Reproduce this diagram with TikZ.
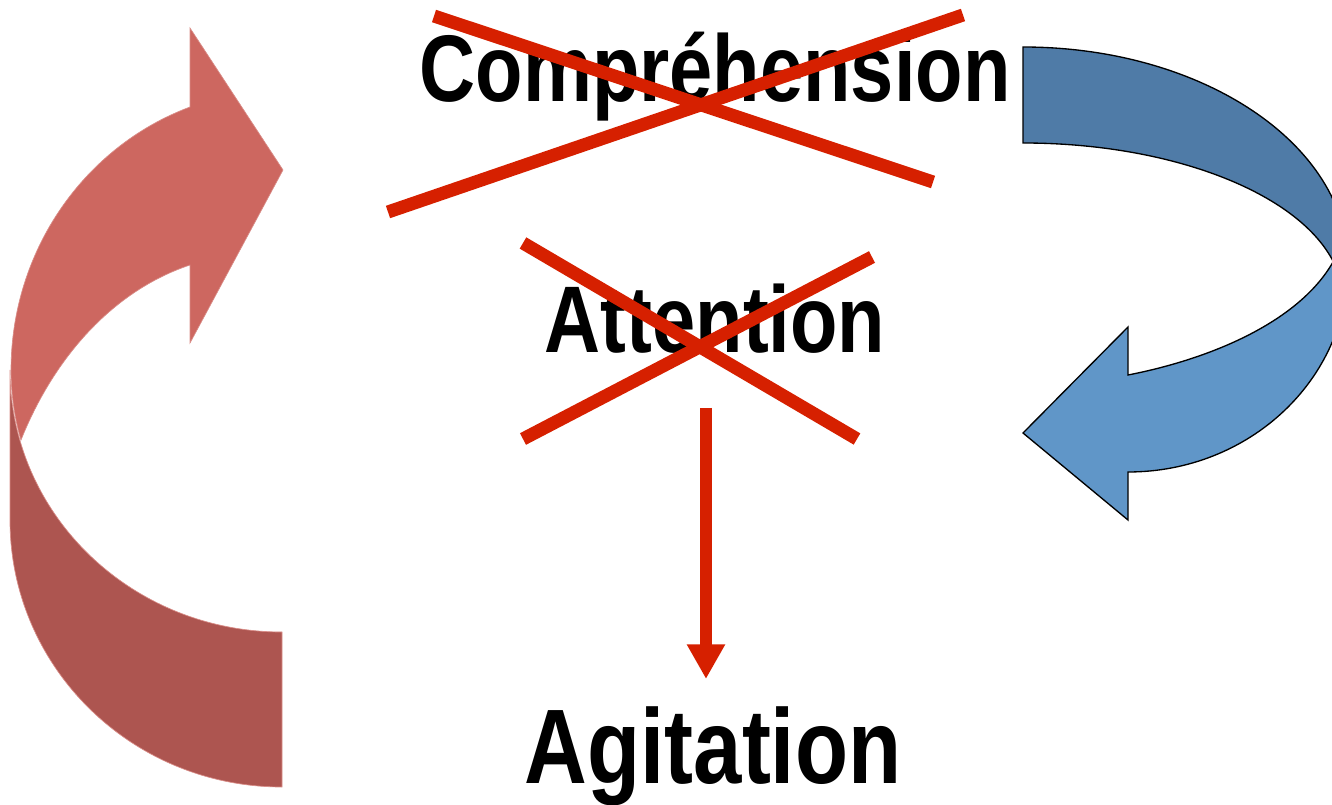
\documentclass[tikz,border=0pt]{standalone}
\usepackage{fontspec}
\newfontfamily\labelfont{Liberation Sans}[FakeStretch=0.82]
\usetikzlibrary{arrows.meta}
\definecolor{strikered}{RGB}{214,32,0}
\definecolor{loopred}{RGB}{205,103,96}
\definecolor{loopreddark}{RGB}{173,85,80}
\definecolor{loopblue}{RGB}{79,123,167}
\definecolor{loopbluelight}{RGB}{96,150,200}
\def\strikewidth{9.8pt}

\begin{document}
\begin{tikzpicture}[x=0.75pt,y=0.75pt]
    \tikzstyle{word}=[inner sep=0pt,anchor=base,font=\labelfont\bfseries\fontsize{71}{80}\selectfont]
    \tikzstyle{big word}=[word,font=\labelfont\bfseries\fontsize{79.5}{88}\selectfont]
    \tikzstyle{strike}=[draw=strikered,line width=\strikewidth]
    \tikzstyle{flow}=[draw=strikered,line width=9pt,-{Triangle[width=27pt,length=26pt]}]
    \tikzstyle{ribbon red}=[draw=loopred!75!white,line width=0.5pt]
    \tikzstyle{ribbon blue}=[draw=black,line width=1pt]

    \useasboundingbox (0,0) rectangle (1332,-805);
    \clip (0,0) rectangle (1332,-805);

    % Draw the red loop (lower half first)
    \path[ribbon red,fill=loopreddark] (10,-370) -- (10,-520)
        arc[start angle=180,end angle=270,x radius=272,y radius=267]
        -- (282,-632)
        arc[start angle=270,end angle=180,x radius=272,y radius=262] -- cycle;
    \path[ribbon red,fill=loopred] (190,-107)
        arc[start angle=110,end angle=180,x radius=272,y radius=280]
        arc[start angle=180,end angle=195.5,x radius=272,y radius=262]
        .. controls (55,-355) and (115,-290) .. (190,-265)
        -- (190,-343) -- (283,-170) -- (190,-28) -- cycle;

    % Draw the blue loop
    \path[ribbon blue,fill=loopblue] (1023,-143)
        arc[start angle=90,end angle=14,x radius=320,y radius=157]
        -- (1348,-265)
        arc[start angle=0,end angle=90,x radius=325,y radius=218] -- cycle;
    \path[ribbon blue,fill=loopbluelight] (1348,-265)
        arc[start angle=0,end angle=-90,x radius=220,y radius=207]
        -- (1128,-520) -- (1023,-433) -- (1128,-327) -- (1128,-375)
        .. controls (1215,-358) and (1300,-320) .. (1333,-262) -- cycle;

    % Draw the words
    \node[word] (comp) at (715,-102) {Compréhension};
    \node[word] (att) at (715,-353) {Attention};
    \node[big word] (agit) at (713,-783) {Agitation};

    % Cross out the first two words
    \draw[strike] (434,-16) -- (933,-182);
    \draw[strike] (388,-212) -- (963,-15);
    \draw[strike] (523,-243) -- (857,-439);
    \draw[strike] (523,-439) -- (872,-257);

    % Arrow down to the last word
    \coordinate (flow top) at (706,-408);
    \coordinate (flow end) at (706,-679);
    \draw[flow] (flow top) -- (flow end);
\end{tikzpicture}
\end{document}
